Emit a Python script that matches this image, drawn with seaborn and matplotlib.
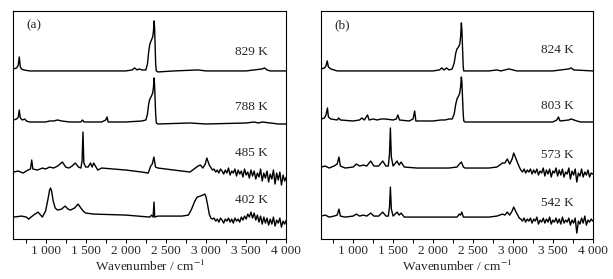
import numpy as np
import pandas as pd
import matplotlib
matplotlib.use("Agg")
import matplotlib.pyplot as plt
import seaborn as sns
from matplotlib.ticker import MultipleLocator, FuncFormatter

sns.set_style("ticks")
plt.rcParams['font.family'] = ['Liberation Serif', 'DejaVu Serif']
plt.rcParams['mathtext.fontset'] = 'stix'

# ---- panel (a) spectra: wavenumber / stacked intensity ----
a829_wn = [600, 640, 660, 672, 685, 700, 730, 800, 1000, 1500, 2000, 2080, 2110, 2140, 2170, 2200,
           2250, 2270, 2285, 2300, 2320, 2335, 2345, 2352, 2358, 2365, 2372, 2380, 2400, 2600, 2900,
           3000, 3500, 3600, 3700, 3730, 3760, 3800, 4000]
a829_y = [170, 171, 174, 182, 172, 170, 169, 168, 168, 168, 168, 169, 171, 169, 170, 169,
          169, 175, 187, 195, 199, 202, 208, 218, 212, 195, 175, 168, 167, 168, 169,
          168, 168, 169, 170, 171, 169, 168, 168]

a788_wn = [600, 640, 660, 672, 685, 710, 740, 760, 800, 1000, 1050, 1100, 1150, 1200, 1300, 1440,
           1460, 1480, 1700, 1750, 1766, 1780, 2000, 2200, 2250, 2270, 2285, 2300, 2320, 2335, 2345,
           2352, 2358, 2365, 2372, 2380, 2400, 2800, 3000, 3500, 3600, 3650, 3700, 3800, 3900, 4000]
a788_y = [119, 120, 122, 129, 121, 119, 120, 118, 117, 117, 118, 118, 119, 118, 117, 117,
          119, 117, 117, 119, 122, 117, 117, 118, 119, 125, 135, 140, 143, 146, 152,
          161, 155, 140, 125, 116, 115, 116, 115, 116, 117, 116, 117, 116, 115, 115]

a485_wn = [600, 660, 720, 780, 812, 827, 842, 900, 960, 1000, 1050, 1100, 1150, 1210, 1250, 1290,
           1330, 1370, 1410, 1440, 1455, 1466, 1477, 1500, 1530, 1560, 1580, 1600, 1650, 1700, 2000,
           2200, 2280, 2310, 2330, 2350, 2370, 2400, 2600, 2800, 2850, 2900, 2930, 2960, 2990, 3010,
           3040, 3080]
a485_y = [67, 68, 66, 69, 70, 79, 70, 69, 71, 70, 72, 71, 73, 77, 72, 71,
          73, 76, 72, 71, 78, 107, 76, 72, 72, 76, 72, 76, 69, 71, 69,
          67, 66, 73, 75, 82, 72, 71, 69, 67, 70, 73, 74, 71, 75, 81,
          74, 69]
a485_noise = [70, 67, 69, 66, 70, 68, 65, 69, 66, 71, 64, 68, 66, 70, 63, 69, 65, 68, 62, 70, 64, 67, 61,
              69, 63, 68, 60, 66, 62, 70, 58, 66, 61, 68, 57, 65, 60, 69, 55, 66, 59, 67, 54, 64, 58, 62]

a402_wn = [600, 700, 760, 790, 850, 906, 960, 1000, 1030, 1050, 1062, 1075, 1095, 1120, 1150, 1200,
           1243, 1280, 1310, 1360, 1405, 1440, 1470, 1500, 1600, 2000, 2300, 2320, 2340, 2352, 2360,
           2400, 2700, 2780, 2820, 2860, 2890, 2930, 2960, 2985, 3000, 3020, 3040, 3060, 3080]
a402_y = [22, 23, 22, 20, 24, 27, 22, 28, 40, 49, 51, 48, 38, 31, 29, 30,
          33, 30, 29, 31, 35, 31, 28, 26, 25, 24, 22, 24, 22, 37, 22,
          23, 23, 24, 30, 38, 42, 43, 44, 45, 42, 34, 25, 21, 20]
a402_noise = [21, 18, 20, 17, 21, 19, 16, 20, 18, 21, 17, 20, 16, 21, 18, 20, 17, 22, 19, 23, 20, 25, 22,
              27, 21, 26, 19, 24, 17, 23, 15, 22, 16, 21, 14, 20, 15, 22, 13, 19, 16, 21, 12, 18, 15, 19]

# ---- panel (b) spectra ----
b824_wn = [600, 640, 660, 675, 690, 720, 800, 2000, 2080, 2110, 2140, 2170, 2200, 2240, 2265, 2285,
           2300, 2320, 2335, 2345, 2355, 2362, 2370, 2378, 2385, 2700, 2800, 2850, 2900, 2950, 3000,
           3050, 3500, 3600, 3700, 3730, 3760, 4000]
b824_y = [170, 171, 173, 178, 172, 170, 168, 168, 169, 171, 169, 171, 169, 170, 176, 186,
          190, 192, 195, 202, 216, 208, 190, 172, 168, 168, 169, 168, 169, 170, 169,
          168, 168, 169, 170, 171, 169, 168]

b803_wn = [600, 640, 660, 678, 690, 720, 800, 820, 840, 1000, 1080, 1110, 1140, 1180, 1200, 1250,
           1300, 1350, 1400, 1500, 1540, 1560, 1580, 1700, 1750, 1770, 1785, 2000, 2100, 2150, 2200,
           2240, 2265, 2285, 2300, 2320, 2335, 2345, 2355, 2362, 2370, 2378, 2385, 2400, 3000, 3500,
           3550, 3570, 3590, 3700, 3730, 3800, 3850, 4000]
b803_y = [120, 121, 124, 131, 122, 120, 119, 121, 119, 118, 119, 121, 119, 124, 119, 120,
          119, 120, 120, 119, 120, 124, 119, 118, 120, 128, 118, 118, 119, 119, 120,
          120, 125, 135, 140, 143, 146, 152, 162, 156, 140, 125, 118, 117, 117, 117,
          119, 122, 118, 119, 120, 118, 117, 117]

b573_wn = [600, 650, 700, 760, 800, 822, 840, 900, 1000, 1040, 1080, 1130, 1170, 1220, 1260, 1320,
           1370, 1410, 1440, 1455, 1466, 1478, 1500, 1550, 1575, 1600, 1640, 1800, 2000, 2200, 2300,
           2330, 2355, 2380, 2400, 2700, 2800, 2870, 2900, 2930, 2960, 2990, 3010, 3040, 3080]
b573_y = [72, 73, 71, 73, 75, 82, 73, 71, 72, 75, 73, 74, 73, 78, 73, 73,
          78, 73, 73, 85, 111, 82, 73, 78, 74, 77, 72, 71, 71, 71, 72,
          75, 77, 72, 71, 71, 72, 76, 76, 80, 75, 80, 86, 80, 72]
b573_noise = [69, 67, 70, 66, 69, 67, 70, 65, 69, 66, 70, 64, 68, 66, 71, 63, 69, 65, 70, 62, 68, 66, 71,
              63, 69, 64, 70, 62, 67, 65, 71, 60, 68, 64, 70, 57, 66, 63, 70, 62, 67, 64, 69, 62, 66, 65]

b542_wn = [600, 650, 700, 760, 800, 822, 840, 900, 1000, 1040, 1080, 1130, 1170, 1220, 1260, 1320,
           1370, 1410, 1440, 1455, 1466, 1478, 1500, 1550, 1575, 1600, 1640, 1800, 2000, 2300, 2330,
           2345, 2360, 2380, 2400, 2700, 2800, 2870, 2900, 2930, 2960, 2990, 3010, 3040, 3080]
b542_y = [23, 24, 22, 23, 24, 30, 23, 22, 23, 25, 23, 24, 23, 26, 23, 23,
          27, 23, 23, 32, 52, 30, 23, 27, 24, 26, 22, 22, 22, 22, 25,
          24, 27, 22, 22, 22, 23, 25, 24, 27, 24, 28, 32, 27, 21]
b542_noise = [20, 18, 21, 17, 20, 18, 21, 16, 20, 18, 22, 15, 19, 17, 21, 16, 20, 17, 22, 15, 19, 17, 21,
              16, 20, 15, 22, 16, 19, 17, 21, 14, 19, 16, 21, 6, 18, 15, 21, 16, 23, 14, 19, 17, 20, 18]

panels = [
    ("(a)", [(a829_wn, a829_y, None, "829 K", 187), (a788_wn, a788_y, None, "788 K", 132),
             (a485_wn, a485_y, a485_noise, "485 K", 86), (a402_wn, a402_y, a402_noise, "402 K", 39)]),
    ("(b)", [(b824_wn, b824_y, None, "824 K", 189), (b803_wn, b803_y, None, "803 K", 133),
             (b573_wn, b573_y, b573_noise, "573 K", 84), (b542_wn, b542_y, b542_noise, "542 K", 36)]),
]

fig = plt.figure(figsize=(6.13, 2.79), dpi=100)
boxes = [[0.022, 0.143, 0.445, 0.818], [0.524, 0.143, 0.443, 0.818]]

for box, (tag, spectra) in zip(boxes, panels):
    ax = fig.add_axes(box)
    for wn, y, noise, label, ty in spectra:
        wn = list(wn)
        y = list(y)
        if noise is not None:
            wn += list(np.linspace(3100, 4000, len(noise)))
            y += list(noise)
        df = pd.DataFrame({'wn': wn, 'y': y})
        sns.lineplot(data=df, x='wn', y='y', ax=ax, color='black', lw=1.0,
                     sort=False, estimator=None)
        ax.text(3560, ty, label, ha='center', va='center', fontsize=9.5)
    ax.text(760, 214, tag, ha='left', va='center', fontsize=9.5)
    ax.set_xlim(600, 4000)
    ax.set_ylim(0, 228)
    ax.set_yticks([])
    ax.set_ylabel('')
    ax.xaxis.set_major_locator(MultipleLocator(500))
    ax.xaxis.set_minor_locator(MultipleLocator(250))
    ax.xaxis.set_major_formatter(FuncFormatter(lambda v, p: f"{int(v):,}".replace(",", " ")))
    ax.tick_params(axis='x', which='both', direction='out', length=3, width=0.7,
                   labelsize=9.5, pad=1.5, color='black')
    ax.set_xlabel('Wavenumber / cm$^{-1}$', fontsize=9.5, labelpad=1)
    for s in ax.spines.values():
        s.set_visible(True)
        s.set_color('black')
        s.set_linewidth(0.8)

fig.savefig('out.png', dpi=100)
